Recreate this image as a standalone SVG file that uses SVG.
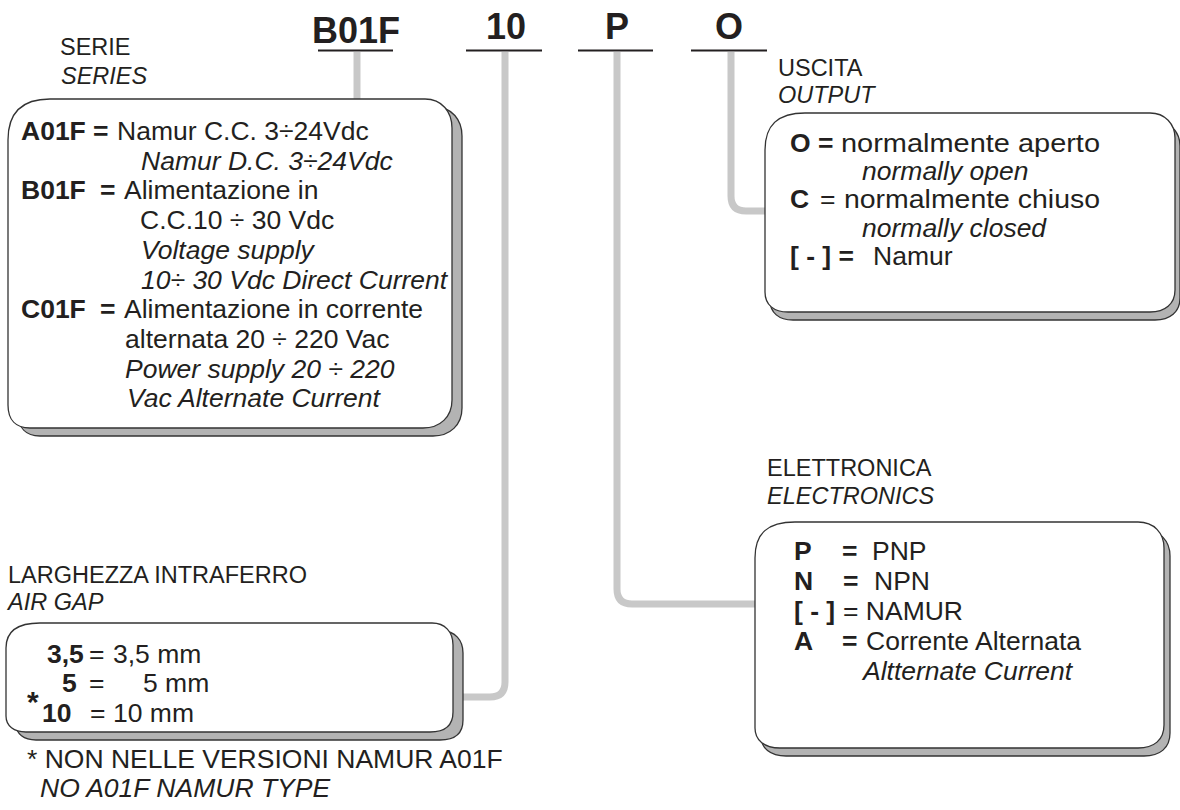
<svg xmlns="http://www.w3.org/2000/svg" width="1180" height="810" viewBox="0 0 1180 810">
<style>
text{font-family:"Liberation Sans",Arial,sans-serif;fill:#231f20;font-size:26.5px}
.b{font-weight:bold}
.i{font-style:italic}
.h{font-size:23.5px}
.code{font-size:36px;font-weight:bold}
.box{fill:#fff;stroke:#333;stroke-width:1.3}
.sh{fill:#b3b3b3;stroke:#333;stroke-width:1.3}
.con{fill:none;stroke:#c8c8c8;stroke-width:7}
.ul{stroke:#231f20;stroke-width:2.2}
</style>
<rect width="1180" height="810" fill="#fff"/>

<g id="codes">
<text class="code" x="312" y="43">B01F</text>
<text class="code" x="506" y="38.5" text-anchor="middle">10</text>
<text class="code" x="617" y="38.5" text-anchor="middle">P</text>
<text class="code" x="729" y="38.5" text-anchor="middle">O</text>
<line class="ul" x1="318" y1="50.5" x2="393" y2="50.5"/>
<line class="ul" x1="466" y1="50.5" x2="542" y2="50.5"/>
<line class="ul" x1="578" y1="50.5" x2="653" y2="50.5"/>
<line class="ul" x1="691" y1="50.5" x2="767" y2="50.5"/>
</g>

<g id="connectors">
<path class="con" d="M357,52 V100"/>
<path class="con" d="M505,52 V682 Q505,697 490,697 H455"/>
<path class="con" d="M617,52 V589 Q617,604 632,604 H760"/>
<path class="con" d="M731,52 V196 Q731,211 746,211 H770"/>
</g>

<g id="serie">
<text class="h" x="60" y="55">SERIE</text>
<text class="h i" x="61" y="84">SERIES</text>
<path class="sh" transform="translate(10,8)" d="M8,140 C8,112 22,99 50,99 L425,99 C442,99 452,112 452,128 L452,400 C452,417 440,428 423,428 L30,428 C16,428 8,420 8,405 Z"/>
<path class="box" d="M8,140 C8,112 22,99 50,99 L425,99 C442,99 452,112 452,128 L452,400 C452,417 440,428 423,428 L30,428 C16,428 8,420 8,405 Z"/>
<text class="b" x="21" y="140">A01F</text>
<text class="b" x="93" y="140">=</text>
<text x="117" y="140">Namur C.C. 3÷24Vdc</text>
<text class="i" x="141" y="169.7">Namur D.C. 3÷24Vdc</text>
<text class="b" x="21" y="199.4">B01F</text>
<text class="b" x="100" y="199.4">=</text>
<text x="124" y="199.4">Alimentazione in</text>
<text x="140" y="229">C.C.10 ÷ 30 Vdc</text>
<text class="i" x="141" y="258.8">Voltage supply</text>
<text class="i" x="141" y="288.5">10÷ 30 Vdc Direct Current</text>
<text class="b" x="21" y="318">C01F</text>
<text class="b" x="100" y="318">=</text>
<text x="124" y="318">Alimentazione in corrente</text>
<text x="125" y="348">alternata 20 ÷ 220 Vac</text>
<text class="i" x="125" y="377.6">Power supply 20 ÷ 220</text>
<text class="i" x="127" y="407.3">Vac Alternate Current</text>
</g>

<g id="uscita">
<text class="h" x="778" y="76">USCITA</text>
<text class="h i" x="778" y="103">OUTPUT</text>
<path class="sh" transform="translate(5,8)" d="M765,150 C765,125 778,113 805,113 L1150,113 C1165,113 1175,124 1175,138 L1175,290 C1175,304 1165,312 1150,312 L788,312 C774,312 765,305 765,292 Z"/>
<path class="box" d="M765,150 C765,125 778,113 805,113 L1150,113 C1165,113 1175,124 1175,138 L1175,290 C1175,304 1165,312 1150,312 L788,312 C774,312 765,305 765,292 Z"/>
<text class="b" x="790" y="151.7">O</text>
<text class="b" x="818" y="151.7">=</text>
<text x="841" y="151.7" textLength="259" lengthAdjust="spacingAndGlyphs">normalmente aperto</text>
<text class="i" x="862" y="180">normally open</text>
<text class="b" x="790" y="208">C</text>
<text x="820" y="208">=</text>
<text x="844" y="208" textLength="256" lengthAdjust="spacingAndGlyphs">normalmente chiuso</text>
<text class="i" x="862" y="236.7">normally closed</text>
<text class="b" x="790" y="265">[ - ] =</text>
<text x="873" y="265">Namur</text>
</g>

<g id="elettronica">
<text class="h" x="767" y="476">ELETTRONICA</text>
<text class="h i" x="767" y="504">ELECTRONICS</text>
<path class="sh" transform="translate(6,8)" d="M755,558 C755,533 768,522 795,522 L1138,522 C1154,522 1164,533 1164,548 L1164,725 C1164,740 1154,748 1138,748 L780,748 C764,748 755,740 755,728 Z"/>
<path class="box" d="M755,558 C755,533 768,522 795,522 L1138,522 C1154,522 1164,533 1164,548 L1164,725 C1164,740 1154,748 1138,748 L780,748 C764,748 755,740 755,728 Z"/>
<text class="b" x="794" y="560">P</text>
<text class="b" x="842" y="560">=</text>
<text x="872" y="560">PNP</text>
<text class="b" x="794" y="590">N</text>
<text class="b" x="843" y="590">=</text>
<text x="874" y="590">NPN</text>
<text class="b" x="794" y="620">[ - ]</text>
<text x="843" y="620">= NAMUR</text>
<text class="b" x="794" y="650">A</text>
<text class="b" x="842" y="650">=</text>
<text x="866" y="650">Corrente Alternata</text>
<text class="i" x="863" y="680">Altternate Current</text>
</g>

<g id="airgap">
<text class="h" x="8" y="583">LARGHEZZA INTRAFERRO</text>
<text class="h i" x="8" y="610">AIR GAP</text>
<path class="sh" transform="translate(10,8)" d="M6,648 C6,632 16,623 40,623 L432,623 C445,623 453,632 453,645 L453,712 C453,725 445,732 430,732 L26,732 C14,732 6,726 6,716 Z"/>
<path class="box" d="M6,648 C6,632 16,623 40,623 L432,623 C445,623 453,632 453,645 L453,712 C453,725 445,732 430,732 L26,732 C14,732 6,726 6,716 Z"/>
<text class="b" x="47" y="663">3,5</text>
<text x="89" y="663">=</text>
<text x="113" y="663">3,5 mm</text>
<text class="b" x="62" y="692">5</text>
<text x="89" y="692">=</text>
<text x="143" y="692">5 mm</text>
<text class="b" x="27" y="712" style="font-size:30px">*</text>
<text class="b" x="42" y="722">10</text>
<text x="90" y="722">=</text>
<text x="113" y="722">10 mm</text>
</g>

<g id="footnote">
<text x="27" y="768">* NON NELLE VERSIONI NAMUR A01F</text>
<text class="i" x="40" y="797">NO A01F NAMUR TYPE</text>
</g>
</svg>
